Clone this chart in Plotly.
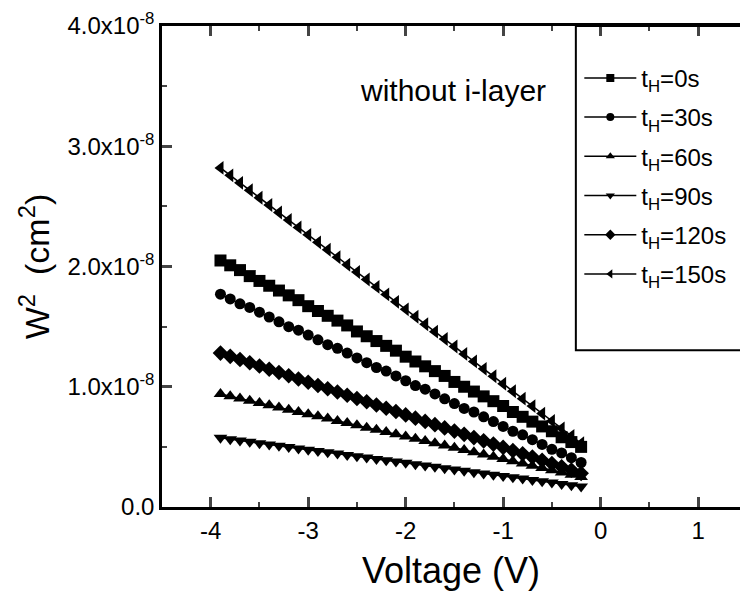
import plotly.graph_objects as go

SCALE = 1e-8
voltage = [round(-3.9 + 0.1 * i, 2) for i in range(38)]

w2_0s = [2.05, 2.01, 1.97, 1.92, 1.88, 1.84, 1.80, 1.76, 1.72, 1.67, 1.63, 1.59, 1.55, 1.51, 1.46, 1.42, 1.38, 1.34, 1.30,
         1.25, 1.21, 1.17, 1.13, 1.09, 1.04, 1.00, 0.96, 0.92, 0.88, 0.84, 0.79, 0.75, 0.71, 0.67, 0.63, 0.58, 0.54, 0.50]
w2_30s = [1.77, 1.73, 1.69, 1.66, 1.62, 1.58, 1.54, 1.50, 1.47, 1.43, 1.39, 1.35, 1.32, 1.28, 1.24, 1.20, 1.16, 1.13, 1.09,
          1.05, 1.01, 0.98, 0.94, 0.90, 0.86, 0.82, 0.79, 0.75, 0.71, 0.67, 0.63, 0.60, 0.56, 0.52, 0.48, 0.45, 0.41, 0.37]
w2_60s = [0.940, 0.921, 0.903, 0.884, 0.865, 0.847, 0.828, 0.809, 0.791, 0.772, 0.754, 0.735, 0.716, 0.698, 0.679, 0.660,
          0.642, 0.623, 0.604, 0.586, 0.567, 0.548, 0.530, 0.511, 0.492, 0.474, 0.455, 0.436, 0.418, 0.399, 0.381, 0.362,
          0.343, 0.325, 0.306, 0.287, 0.269, 0.250]
w2_90s = [0.575, 0.564, 0.553, 0.542, 0.531, 0.520, 0.509, 0.498, 0.487, 0.476, 0.466, 0.455, 0.444, 0.433, 0.422, 0.411,
          0.400, 0.389, 0.378, 0.367, 0.356, 0.345, 0.334, 0.323, 0.312, 0.301, 0.290, 0.279, 0.268, 0.258, 0.247, 0.236,
          0.225, 0.214, 0.203, 0.192, 0.181, 0.170]
w2_120s = [1.280, 1.253, 1.226, 1.199, 1.172, 1.145, 1.118, 1.091, 1.064, 1.037, 1.010, 0.983, 0.956, 0.929, 0.902, 0.875,
           0.848, 0.821, 0.794, 0.766, 0.739, 0.712, 0.685, 0.658, 0.631, 0.604, 0.577, 0.550, 0.523, 0.496, 0.469, 0.442,
           0.415, 0.388, 0.361, 0.334, 0.307, 0.280]
w2_150s = [2.820, 2.758, 2.696, 2.634, 2.572, 2.511, 2.449, 2.387, 2.325, 2.263, 2.201, 2.139, 2.077, 2.015, 1.954, 1.892,
           1.830, 1.768, 1.706, 1.644, 1.582, 1.520, 1.458, 1.397, 1.335, 1.273, 1.211, 1.149, 1.087, 1.025, 0.963, 0.901,
           0.839, 0.777, 0.716, 0.654, 0.592, 0.530]

series_names = ["t<sub>H</sub>=0s", "t<sub>H</sub>=30s", "t<sub>H</sub>=60s",
                "t<sub>H</sub>=90s", "t<sub>H</sub>=120s", "t<sub>H</sub>=150s"]
series_values = [w2_0s, w2_30s, w2_60s, w2_90s, w2_120s, w2_150s]
symbols = ["square", "circle", "triangle-up", "triangle-down", "diamond", "triangle-left"]

y_tickvals = [0.0, 1.0, 2.0, 3.0, 4.0]
y_ticktext = ["0.0", "1.0x10<sup>-8</sup>", "2.0x10<sup>-8</sup>", "3.0x10<sup>-8</sup>", "4.0x10<sup>-8</sup>"]
x_tickvals = [-4, -3, -2, -1, 0, 1]
x_ticktext = ["-4", "-3", "-2", "-1", "0", "1"]

FONT = "Liberation Sans, Arial, sans-serif"

fig = go.Figure()
for i, (name, vals, sym) in enumerate(zip(series_names, series_values, symbols)):
    fig.add_trace(go.Scatter(
        x=voltage, y=[v * SCALE for v in vals], name=name, mode="lines+markers",
        legendgroup=f"g{i}", showlegend=False,
        line=dict(color="black", width=1.5),
        marker=dict(symbol=sym, size=12 if sym != "circle" else 11, color="black"),
    ))
    # legend entry with the small symbol used in the reference legend
    fig.add_trace(go.Scatter(
        x=[None], y=[None], name=name, mode="lines+markers",
        legendgroup=f"g{i}", showlegend=True,
        line=dict(color="black", width=1.5),
        marker=dict(symbol=sym, size=8, color="black"),
    ))

fig.update_layout(
    width=740, height=601,
    margin=dict(l=162, r=0, t=26, b=94),
    paper_bgcolor="white", plot_bgcolor="white",
    font=dict(family=FONT, color="black", size=22),
    showlegend=True,
    legend=dict(x=0.722, y=0.938, xanchor="left", yanchor="top",
                bgcolor="rgba(0,0,0,0)", borderwidth=0,
                font=dict(size=24, family=FONT), tracegroupgap=5, itemwidth=52),
    xaxis=dict(range=[-4.5, 1.43], tickvals=x_tickvals, ticktext=x_ticktext, ticks="inside", ticklen=10,
               tickwidth=2.5, showline=True, linewidth=2.5, linecolor="black", mirror="allticks",
               showgrid=False, zeroline=False, tickfont=dict(size=24),
               minor=dict(dtick=0.5, ticks="inside", ticklen=5, tickwidth=2, showgrid=False),
               title=dict(text="Voltage (V)", font=dict(size=36), standoff=16)),
    yaxis=dict(range=[0, 4.0 * SCALE], tickvals=[v * SCALE for v in y_tickvals], ticktext=y_ticktext,
               ticks="inside", ticklen=10, tickwidth=2.5, showline=True, linewidth=2.5, linecolor="black",
               mirror=False, showgrid=False, zeroline=False, tickfont=dict(size=24),
               minor=dict(dtick=0.5 * SCALE, ticks="inside", ticklen=5, tickwidth=2, showgrid=False),
               title=dict(text="W<sup>2</sup>  (cm<sup>2</sup>)", font=dict(size=34), standoff=8)),
    annotations=[dict(text="without i-layer", x=0.339, y=0.865, xref="paper", yref="paper",
                      xanchor="left", yanchor="middle", showarrow=False, font=dict(size=30))],
    shapes=[dict(type="rect", xref="paper", yref="paper", x0=0.716, x1=1.05, y0=0.326, y1=1.0,
                 line=dict(color="black", width=2), fillcolor="rgba(0,0,0,0)", layer="above")],
)

fig.write_html("out.html")
